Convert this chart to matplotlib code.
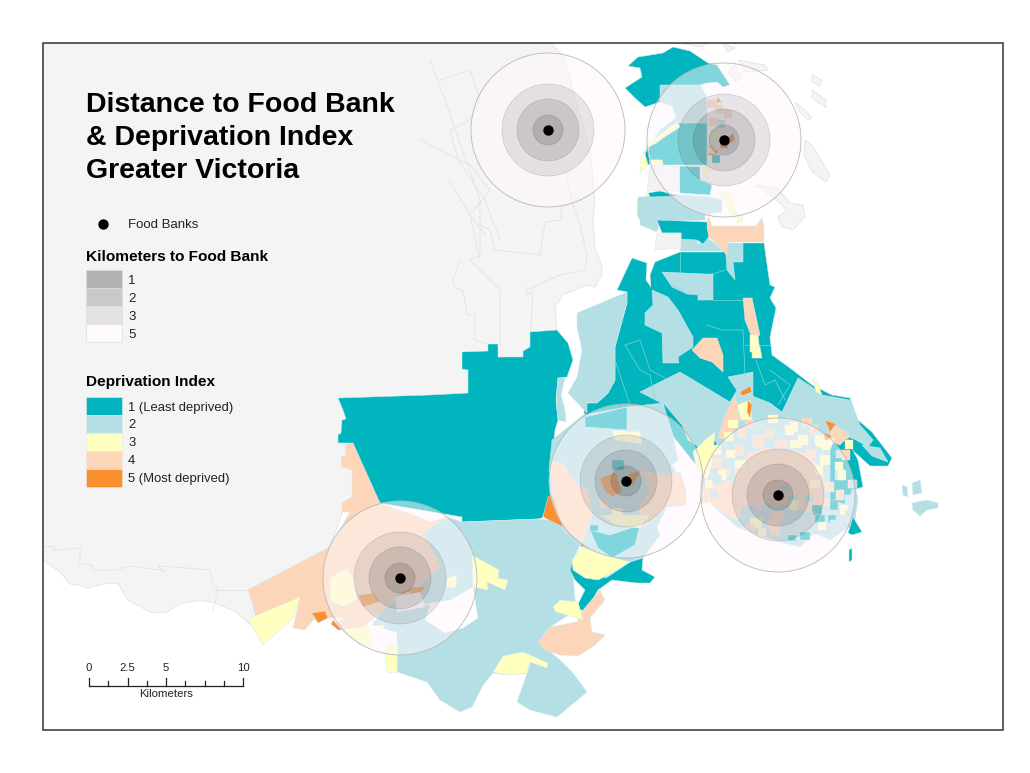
import matplotlib
matplotlib.use("Agg")
import matplotlib.pyplot as plt
from matplotlib.patches import Polygon, Circle, Rectangle

plt.rcParams['font.family'] = ['Liberation Sans', 'DejaVu Sans']

# classes of the deprivation index
class_labels = ['1 (Least deprived)', '2', '3', '4', '5 (Most deprived)']
class_colors = ['#00b5bd', '#b3dfe5', '#ffffbf', '#fdd5b8', '#f98f2e']

km_labels = ['1', '2', '3', '5']
km_colors = ['#b1b1b1', '#c9c9c9', '#e2e2e2', '#fdf9fd']
km_radius = [15, 31, 46, 77]   # picture pixels

bank_x = [548, 724, 626, 778, 400]
bank_y = [130, 140, 481, 495, 578]

scale_pos = [89, 108, 127.5, 147, 166, 185, 204.5, 224, 243]
scale_labels = {89: '0', 127.5: '2.5', 166: '5', 243: '10'}

# surrounding land, no data
land = [
    [(43, 43), (550, 43), (563, 55), (590, 150), (595, 200), (593, 223), (595, 247), (602, 267), (602, 275),
     (595, 287), (587, 285), (563, 295), (555, 307), (557, 332), (540, 400), (400, 480), (345, 505), (330, 547), (248, 590),
     (254, 607), (251, 625), (236, 612), (215, 603), (200, 600), (180, 604), (165, 613), (150, 612), (128, 600),
     (118, 584), (108, 583), (88, 588), (78, 585), (70, 584), (60, 572), (43, 560)],
    [(755, 185), (777, 188), (790, 203), (803, 205), (805, 217), (793, 230), (782, 227), (778, 217), (787, 210), (773, 197)],
    [(805, 140), (812, 145), (830, 175), (826, 182), (812, 172), (804, 155)],
    [(795, 102), (805, 110), (812, 118), (808, 120), (798, 110)],
    [(738, 60), (765, 65), (768, 70), (745, 72)],
    [(735, 65), (742, 75), (736, 82), (728, 72)],
    [(812, 75), (822, 80), (820, 86), (812, 82)],
    [(812, 90), (826, 100), (826, 108), (812, 98)],
    [(722, 43), (735, 48), (728, 52)],
    [(680, 43), (708, 43), (700, 47)],
]
land_lines = [
    [(430, 60), (445, 100), (480, 200), (480, 255), (470, 260), (500, 290), (500, 345)],
    [(440, 80), (470, 70), (480, 100), (470, 120), (450, 130), (458, 160), (485, 200), (500, 240)],
    [(420, 140), (470, 165), (490, 190), (470, 215), (480, 260)],
    [(480, 225), (490, 230), (495, 250), (540, 255), (545, 222), (561, 220), (561, 205)],
    [(527, 290), (560, 275), (585, 270), (587, 255), (580, 225), (573, 205), (565, 170)],
    [(525, 287), (527, 295), (533, 292), (530, 345)],
    [(487, 344), (475, 340), (475, 315), (467, 315), (463, 290), (455, 288), (453, 280), (460, 260)],
    [(449, 180), (455, 190), (470, 215), (485, 235)],
    [(43, 547), (54, 546), (54, 550), (80, 548), (80, 564), (92, 565), (92, 570), (115, 570), (130, 566), (160, 570),
     (165, 572), (158, 566), (175, 567), (210, 570), (212, 583), (218, 590), (213, 610)],
    [(212, 590), (248, 590)],
]

# teal drawn underneath everything else
class1_base = [
    [(632, 258), (647, 263), (646, 280), (651, 287), (650, 275), (655, 262), (680, 252), (723, 252), (743, 243),
     (764, 243), (770, 285), (775, 287), (770, 298), (776, 308), (770, 337), (772, 355), (790, 368), (812, 385),
     (832, 395), (850, 398), (858, 420), (872, 432), (892, 458), (888, 466), (870, 466), (850, 448), (848, 470),
     (700, 470), (660, 420), (585, 420), (583, 403), (597, 403), (608, 393), (615, 380), (615, 347), (627, 303), (627, 292), (617, 290)],
    [(338, 398), (430, 395), (468, 393), (468, 370), (462, 369), (462, 352), (488, 351), (488, 344), (498, 344),
     (498, 357), (523, 357), (523, 351), (530, 347), (530, 332), (557, 330), (568, 343), (573, 360), (567, 377),
     (558, 378), (556, 400), (558, 420), (555, 430), (552, 462), (552, 495), (542, 518), (537, 519), (462, 522),
     (462, 517), (380, 503), (352, 470), (353, 443), (338, 443), (338, 435), (341, 433), (342, 420), (346, 419), (343, 410)],
]
class1 = [
    [(628, 66), (638, 57), (663, 53), (673, 47), (690, 51), (708, 63), (717, 65), (730, 85), (723, 87), (717, 82),
     (707, 83), (700, 85), (660, 85), (660, 102), (645, 107), (635, 98), (625, 88), (642, 77), (640, 68)],
    [(678, 123), (707, 123), (707, 165), (663, 165), (662, 160), (650, 160), (648, 147), (657, 143)],
    [(648, 147), (650, 165), (641, 163)],
    [(679, 166), (700, 167), (700, 180), (712, 185), (710, 195), (680, 193)],
    [(648, 193), (660, 191), (680, 196), (650, 197)],
    [(657, 220), (707, 222), (709, 237), (703, 244), (697, 240), (681, 239), (681, 233), (662, 233)],
    [(570, 570), (573, 560), (590, 570), (606, 578), (630, 562), (643, 558), (642, 570), (655, 577), (650, 583),
     (637, 583), (612, 580), (598, 590), (586, 612), (576, 608), (585, 590), (575, 580)],
    [(848, 533), (853, 517), (862, 532), (852, 535)],
    [(849, 550), (852, 548), (852, 560), (849, 562)],
    [(585, 417), (627, 407), (627, 430), (585, 427)],
    [(830, 438), (845, 435), (858, 460), (863, 487), (852, 490), (848, 505), (830, 500)],
    [(705, 450), (715, 440), (718, 447), (707, 452)],
    [(590, 530), (610, 535), (640, 525), (635, 545), (612, 558), (598, 548)],
]
class2 = [
    [(660, 85), (700, 85), (706, 95), (708, 125), (678, 123), (657, 143), (650, 147), (660, 130), (676, 118), (672, 106), (660, 102)],
    [(638, 197), (680, 195), (710, 197), (722, 200), (722, 212), (705, 215), (705, 220), (660, 222), (657, 232), (640, 225), (640, 220), (637, 215)],
    [(681, 239), (697, 239), (698, 244), (708, 238), (720, 248), (723, 251), (680, 251)],
    [(725, 243), (743, 243), (743, 262), (733, 262), (735, 280), (727, 270)],
    [(577, 313), (627, 292), (627, 303), (615, 347), (615, 380), (608, 393), (597, 403), (587, 402), (587, 413), (568, 393), (577, 377), (582, 350), (577, 327)],
    [(558, 378), (565, 378), (561, 395), (565, 410), (566, 422), (558, 420), (556, 400)],
    [(645, 313), (653, 305), (652, 290), (668, 297), (678, 310), (693, 337), (693, 347), (678, 357), (679, 363), (663, 363), (662, 333), (645, 325)],
    [(662, 272), (705, 274), (713, 274), (713, 300), (698, 300), (698, 295), (687, 294), (672, 287)],
    [(728, 377), (753, 372), (753, 397), (738, 392)],
    [(798, 378), (812, 387), (822, 395), (850, 400), (860, 425), (873, 440), (868, 447), (856, 440), (848, 437), (820, 440), (785, 418), (782, 412)],
    [(680, 372), (730, 402), (737, 390), (770, 403), (782, 412), (822, 440), (848, 438), (853, 470),
     (858, 500), (855, 520), (845, 530), (830, 540), (815, 533), (800, 547), (780, 542), (752, 533), (737, 527), (712, 505),
     (700, 487), (703, 450), (688, 440), (682, 425), (665, 405), (640, 392), (660, 382)],
    [(627, 407), (663, 403), (673, 435), (678, 460), (672, 465), (685, 490), (686, 505), (667, 507), (657, 527), (660, 535), (643, 558),
     (628, 562), (605, 578), (583, 548), (552, 520), (549, 470), (552, 440), (583, 415)],
    # Sooke hills
    [(432, 522), (447, 517), (462, 522), (537, 519), (552, 520), (580, 545), (572, 562), (576, 610), (550, 627), (538, 642), (560, 660), (573, 673),
     (587, 692), (557, 717), (530, 710), (517, 702), (530, 665), (527, 673), (507, 675), (493, 673), (483, 685), (472, 707), (460, 712),
     (440, 700), (427, 682), (397, 672), (397, 640), (372, 625), (390, 600), (417, 587), (440, 567), (423, 533)],
    # islands off the east coast
    [(902, 485), (907, 487), (908, 497), (903, 495)],
    [(912, 483), (920, 480), (922, 493), (913, 495)],
    [(912, 503), (927, 500), (938, 503), (938, 508), (927, 510), (920, 516), (913, 510)],
    [(862, 445), (880, 448), (888, 462), (872, 456)],
]
class3 = [
    [(677, 122), (660, 134), (647, 145), (641, 160), (640, 173), (648, 165), (644, 150), (660, 140), (680, 127)],
    [(645, 195), (650, 188), (648, 196)],
    [(720, 192), (730, 193), (737, 215), (733, 215)],
    [(737, 223), (738, 216), (743, 215), (741, 222)],
    [(650, 160), (662, 160), (663, 166), (650, 166)],
    [(705, 165), (710, 170), (708, 180), (703, 172)],
    [(750, 335), (758, 335), (760, 352), (750, 352)],
    [(752, 347), (760, 347), (762, 358), (752, 358)],
    [(250, 618), (300, 597), (293, 618), (280, 630), (263, 645), (250, 623)],
    [(330, 578), (347, 568), (355, 580), (357, 600), (343, 607), (330, 600)],
    [(342, 630), (350, 628), (385, 625), (373, 643), (360, 645)],
    [(387, 645), (398, 643), (397, 672), (388, 673), (385, 658)],
    [(472, 555), (499, 570), (498, 578), (508, 580), (505, 590), (487, 582), (488, 590), (473, 587)],
    [(447, 578), (457, 575), (455, 588), (447, 587)],
    [(493, 672), (503, 656), (523, 652), (548, 663), (547, 668), (530, 662), (527, 673), (507, 675)],
    [(572, 560), (582, 547), (622, 560), (630, 562), (608, 575), (598, 580), (585, 578), (573, 570)],
    [(553, 607), (560, 600), (578, 602), (583, 620), (570, 616), (556, 612)],
    [(612, 430), (640, 432), (642, 444), (615, 440)],
    [(600, 515), (650, 515), (640, 528), (615, 525)],
    [(705, 440), (715, 432), (712, 465), (707, 480), (697, 470), (693, 452)],
    [(737, 405), (750, 400), (752, 420), (741, 420)],
    [(812, 378), (818, 384), (822, 395), (816, 392)],
    [(818, 440), (835, 438), (830, 450), (815, 446)],
]
class4 = [
    [(707, 227), (708, 215), (712, 226), (756, 226), (762, 218), (764, 226), (764, 242), (728, 242), (727, 255), (709, 237)],
    [(743, 298), (752, 298), (760, 335), (752, 338), (745, 320)],
    [(692, 350), (703, 338), (717, 338), (723, 355), (723, 372), (712, 362), (700, 358)],
    [(248, 590), (330, 547), (350, 512), (342, 512), (342, 503), (352, 497), (352, 470), (342, 467), (341, 457),
     (346, 455), (345, 445), (353, 443), (380, 503), (432, 522), (447, 517), (423, 533), (440, 567), (417, 587),
     (395, 600), (372, 620), (340, 618), (323, 618), (313, 620), (305, 630), (293, 628), (300, 597), (255, 618), (254, 607)],
    [(538, 642), (550, 627), (577, 622), (583, 610), (600, 590), (605, 600), (590, 618), (592, 632), (605, 635), (595, 645), (578, 656), (560, 655), (545, 650)],
    [(353, 615), (370, 610), (372, 618), (365, 628), (343, 630), (337, 622)],
    [(550, 462), (563, 463), (575, 483), (588, 490), (592, 515), (583, 542), (565, 530), (552, 515), (552, 485)],
    [(640, 470), (665, 475), (680, 472), (686, 490), (686, 505), (667, 507), (645, 527), (640, 505), (650, 490)],
    [(700, 487), (730, 480), (750, 495), (735, 520), (712, 505)],
    [(725, 415), (735, 395), (740, 420), (728, 440), (718, 438)],
    [(835, 425), (850, 435), (840, 445), (825, 440)],
    # central Victoria
    [(735, 470), (750, 452), (780, 448), (810, 455), (824, 475), (824, 505), (810, 515), (785, 505), (760, 510), (745, 505), (735, 490)],
]
class5 = [
    [(312, 613), (325, 611), (328, 618), (318, 623)],
    [(333, 620), (342, 630), (338, 630), (331, 624)],
    [(358, 595), (373, 593), (380, 602), (363, 607)],
    [(393, 597), (413, 587), (420, 587), (437, 583), (425, 587), (415, 603), (410, 592)],
    [(543, 517), (548, 497), (552, 495), (563, 527)],
    [(740, 392), (750, 386), (752, 392), (742, 396)],
    [(748, 400), (752, 405), (750, 418), (747, 412)],
    [(825, 420), (836, 424), (830, 432)],
    [(823, 432), (832, 436), (826, 442)],
    [(582, 543), (586, 545), (580, 547)],
    [(718, 97), (722, 103), (716, 102)],
    [(728, 137), (733, 133), (735, 140), (728, 145)],
    [(708, 150), (718, 150), (716, 156), (708, 155)],
    [(600, 478), (616, 472), (622, 492), (612, 497), (604, 490)],
    [(628, 474), (642, 470), (632, 486)],
]
teal_lines = [
    [(672, 285), (687, 294), (698, 295)],
    [(713, 300), (745, 300)],
    [(713, 274), (725, 270)],
    [(680, 252), (680, 272)],
    [(707, 325), (722, 330), (743, 330), (745, 375)],
    [(625, 345), (640, 370), (650, 375), (655, 400)],
    [(625, 345), (640, 340), (650, 370), (665, 378)],
    [(745, 345), (770, 345)],
    [(756, 360), (765, 385), (775, 380), (785, 400)],
    [(770, 370), (790, 385), (778, 405)],
    [(615, 360), (630, 405)],
]

# block mosaic in the towns: x, y, width, height, class (0 = class 1)
cell_x = [753, 745, 765, 712, 724, 735, 768, 785, 798, 810, 822, 836, 712, 726, 750, 762, 790, 806, 820, 835,
          740, 755, 770, 785, 800, 815, 735, 750, 765, 780, 795, 810, 825, 740, 756, 772, 788, 804, 820,
          745, 762, 778, 794, 812, 828, 750, 768, 786, 800, 815, 836, 840, 848, 720, 735, 710, 722, 705, 835, 825,
          757, 772, 790, 805, 800, 812, 770, 782, 838, 845, 830,
          707, 716, 724, 709, 718, 711, 720, 712, 707,
          612, 622, 600, 635, 612, 640, 600, 590,
          728, 738, 752, 775, 790, 802, 815, 832, 845, 718, 730, 700, 712, 842, 835, 850, 828, 842,
          745, 758, 770, 788, 806, 818, 830, 845]
cell_y = [435, 420, 430, 445, 432, 445, 415, 425, 435, 425, 440, 450, 458, 450, 455, 448, 440, 450, 455, 470,
          462, 460, 455, 470, 462, 465, 475, 478, 470, 485, 478, 480, 482, 490, 492, 488, 495, 495, 498,
          505, 503, 505, 510, 505, 510, 518, 518, 522, 525, 515, 490, 505, 480, 468, 460, 490, 498, 480, 515, 528,
          510, 512, 500, 512, 532, 528, 530, 535, 470, 495, 500,
          100, 105, 110, 118, 120, 130, 140, 155, 145,
          460, 452, 500, 490, 508, 505, 520, 525,
          420, 428, 425, 440, 422, 418, 435, 430, 440, 470, 510, 495, 475, 450, 462, 480, 515, 520,
          525, 528, 520, 535, 526, 522, 520, 510]
cell_w = [11, 9, 8, 9, 9, 8, 10, 9, 10, 8, 8, 8, 10, 9, 10, 8, 12, 10, 10, 10,
          12, 10, 12, 10, 10, 8, 12, 10, 10, 9, 10, 10, 9, 12, 10, 10, 10, 10, 10,
          10, 10, 10, 12, 10, 8, 12, 12, 10, 10, 10, 8, 8, 8, 10, 10, 8, 8, 8, 10, 10,
          8, 12, 8, 8, 10, 8, 10, 10, 8, 8, 8,
          10, 7, 8, 10, 7, 8, 8, 8, 8,
          12, 14, 8, 10, 10, 8, 10, 8,
          10, 8, 10, 12, 8, 10, 9, 9, 8, 8, 10, 8, 10, 8, 8, 7, 8, 8,
          10, 8, 10, 8, 8, 8, 10, 6]
cell_h = [13, 8, 8, 10, 9, 10, 8, 10, 10, 9, 10, 8, 10, 8, 7, 8, 8, 8, 10, 10,
          10, 12, 10, 10, 10, 10, 10, 8, 10, 8, 10, 8, 10, 12, 10, 10, 8, 8, 8,
          10, 10, 12, 12, 10, 10, 10, 12, 10, 8, 8, 10, 10, 8, 8, 8, 8, 8, 8, 8, 8,
          8, 10, 10, 8, 8, 6, 5, 6, 10, 10, 10,
          8, 8, 8, 8, 8, 12, 8, 8, 8,
          10, 8, 8, 10, 8, 10, 6, 6,
          8, 10, 10, 8, 10, 8, 9, 8, 9, 10, 8, 8, 10, 10, 8, 8, 8, 8,
          6, 8, 8, 6, 6, 8, 10, 8]
cell_cls = [3, 3, 3, 2, 2, 3, 2, 2, 2, 3, 2, 1, 3, 2, 3, 3, 2, 3, 2, 1,
            3, 3, 3, 3, 3, 2, 3, 3, 3, 1, 3, 2, 3, 3, 3, 3, 1, 1, 3,
            1, 1, 1, 1, 0, 1, 2, 3, 1, 1, 0, 3, 2, 3, 3, 2, 1, 3, 2, 1, 1,
            1, 3, 2, 1, 0, 1, 3, 1, 2, 1, 0,
            3, 3, 3, 3, 1, 2, 4, 0, 3,
            0, 1, 3, 1, 2, 3, 1, 0,
            2, 3, 1, 3, 2, 3, 2, 3, 2, 2, 3, 3, 1, 3, 2, 1, 0, 1,
            3, 2, 3, 0, 1, 2, 1, 1]

fig = plt.figure(figsize=(10.3, 7.73), dpi=100)
ax = fig.add_axes([0, 0, 1, 1])
ax.set_xlim(0, 1030)
ax.set_ylim(773, 0)
ax.axis('off')

for poly in land:
    ax.add_patch(Polygon(poly, facecolor='#f4f4f4', edgecolor='#e0e0e0', lw=0.5, zorder=1))
for line in land_lines:
    ax.plot([p[0] for p in line], [p[1] for p in line], color='#e2e2e2', lw=0.6, zorder=1.5)

layers = [(class1_base, 0), (class2, 1), (class1, 0), (class4, 3), (class3, 2), (class5, 4)]
for z, (polys, c) in enumerate(layers):
    for poly in polys:
        ax.add_patch(Polygon(poly, facecolor=class_colors[c], edgecolor='#d5ebee', lw=0.35, zorder=2 + z * 0.1))
for line in teal_lines:
    ax.plot([p[0] for p in line], [p[1] for p in line], color='#7fd6db', lw=0.5, zorder=2.15)

# white gaps in the Sooke polygons and no data blocks
gaps = [[(418, 605), (450, 600), (473, 587), (478, 618), (463, 628), (445, 633), (425, 620), (430, 605)],
        [(367, 623), (397, 633), (397, 643), (373, 643)],
        [(395, 597), (420, 592), (425, 607), (397, 612)]]
for poly in gaps:
    ax.add_patch(Polygon(poly, facecolor='white', edgecolor='none', zorder=2.6))
for poly in [[(649, 166), (679, 166), (679, 190), (647, 190)], [(657, 233), (681, 233), (681, 248), (655, 250)]]:
    ax.add_patch(Polygon(poly, facecolor='#f2f2f2', edgecolor='#e4e4e4', lw=0.4, zorder=2.6))

ax.bar(cell_x, cell_h, width=cell_w, bottom=cell_y, align='edge',
       color=[class_colors[c] for c in cell_cls], edgecolor='#f4e8e0', linewidth=0.25, zorder=2.7)

# distance rings, biggest first
for cx, cy in zip(bank_x, bank_y):
    ax.add_patch(Circle((cx, cy), km_radius[3], facecolor=(0.996, 0.97, 0.99, 0.5), edgecolor='#b8b8b8', lw=0.6, zorder=3))
    for r, a in zip(km_radius[2::-1], [0.085, 0.11, 0.12]):
        ax.add_patch(Circle((cx, cy), r, facecolor=(0, 0, 0, a), edgecolor=(0, 0, 0, 0.15), lw=0.5, zorder=3.1))
ax.scatter(bank_x, bank_y, s=42, color='black', zorder=4)

# title and legend
for y, line in zip([112, 145, 178], ['Distance to Food Bank', '& Deprivation Index', 'Greater Victoria']):
    ax.text(86, y, line, fontsize=20.5, fontweight='bold', va='baseline', ha='left', zorder=5)

ax.scatter([103], [224], s=42, color='black', zorder=5)
ax.text(128, 225.5, 'Food Banks', fontsize=9.5, va='center', color='#222222', zorder=5)

ax.text(86, 261, 'Kilometers to Food Bank', fontsize=11.1, fontweight='bold', va='baseline', zorder=5)
for i, (lab, col) in enumerate(zip(km_labels, km_colors)):
    ax.add_patch(Rectangle((86, 270 + i * 18), 36, 18, facecolor=col, edgecolor='#dddddd', lw=0.5, zorder=5))
    ax.text(128, 280.5 + i * 18, lab, fontsize=9.5, va='center', color='#222222', zorder=5)

ax.text(86, 386, 'Deprivation Index', fontsize=11.1, fontweight='bold', va='baseline', zorder=5)
for i, (lab, col) in enumerate(zip(class_labels, class_colors)):
    ax.add_patch(Rectangle((86, 397 + i * 17.9), 36, 17.9, facecolor=col, edgecolor='#e8e8e8', lw=0.4, zorder=5))
    ax.text(128, 407.5 + i * 17.9, lab, fontsize=9.4, va='center', color='#222222', zorder=5)

# scale bar
ax.plot([scale_pos[0], scale_pos[-1]], [686, 686], color='#222222', lw=0.9, zorder=5)
for p in scale_pos:
    top = 678 if p in scale_labels else 681
    ax.plot([p, p], [top, 686], color='#222222', lw=0.9, zorder=5)
    if p in scale_labels:
        ax.text(p, 668, scale_labels[p], fontsize=8.2, ha='center', va='center', color='#222222', zorder=5)
ax.text(166, 694, 'Kilometers', fontsize=8.2, ha='center', va='center', color='#222222', zorder=5)

ax.add_patch(Rectangle((43, 43), 960, 687, facecolor='none', edgecolor='#333333', lw=1.1, zorder=6))

fig.savefig('out.png', dpi=100)
